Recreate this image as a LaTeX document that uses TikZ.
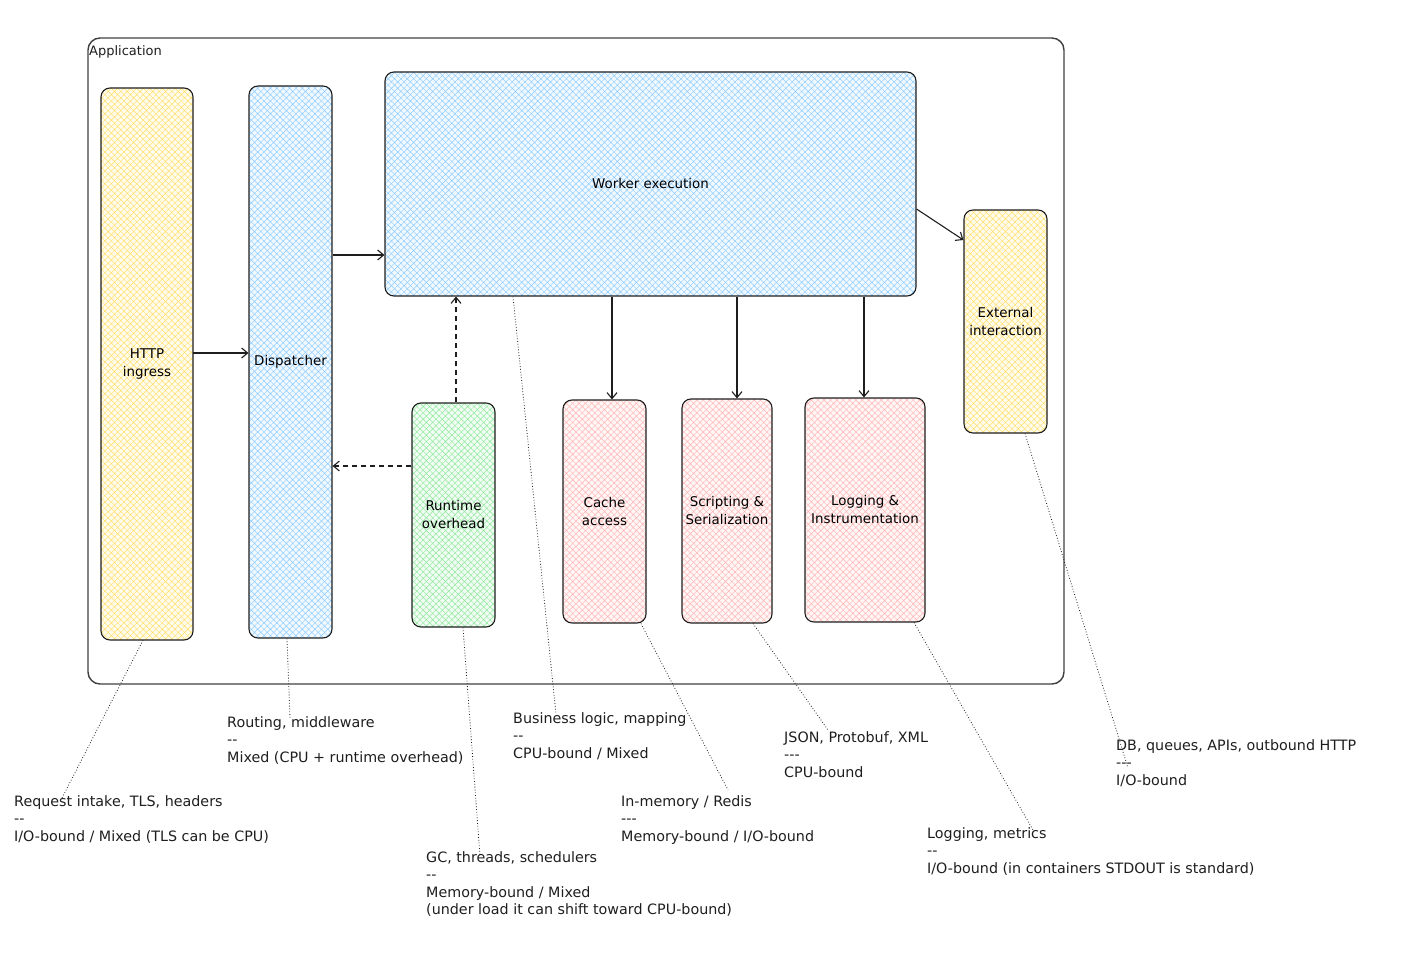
\documentclass[tikz,border=0pt]{standalone}
\usepackage{fontspec}
\setmainfont{DejaVu Sans}
\usetikzlibrary{arrows.meta,patterns.meta,calc}
\definecolor{ink}{HTML}{1E1E1E}
\definecolor{hyel}{HTML}{FFE066}
\definecolor{hblu}{HTML}{8CCBFF}
\definecolor{hgrn}{HTML}{8CE99A}
\definecolor{hred}{HTML}{FFB3B3}
\newcommand{\dd}{-\kern0pt-}
\newcommand{\ddd}{-\kern0pt-\kern0pt-}
\tikzset{
  box/.style={draw=ink, line width=1.1pt, rounded corners=9pt, align=center, inner sep=2pt,
    font=\fontsize{13.4}{18}\selectfont},
  hatchfill/.style={preaction={fill=#1!12}, pattern={Hatch[angle=45,distance=4.5pt,line width=0.45pt]}, pattern color=#1},
  yelbox/.style={box, hatchfill=hyel},
  blubox/.style={box, hatchfill=hblu},
  grnbox/.style={box, hatchfill=hgrn},
  redbox/.style={box, hatchfill=hred},
  arr/.style={draw=ink, line width=1.1pt, -{Straight Barb[length=6pt,width=10pt]}},
  darr/.style={arr, dashed, dash pattern=on 5pt off 4pt},
  dotl/.style={draw=ink, line width=0.8pt, dotted},
  ann/.style={anchor=north west, align=left, inner sep=0pt, font=\fontsize{14.3}{17.5}\selectfont, text=ink},
}
\begin{document}
\begin{tikzpicture}[x=1pt,y=-1pt]
\useasboundingbox (0,0) rectangle (1424,957);
% container
\node[draw=ink!85, line width=1.4pt, rounded corners=12pt, minimum width=976pt, minimum height=646pt, inner sep=0pt] (app) at (576,361) {};
\node[anchor=north west, inner sep=0pt, font=\fontsize{13}{14}\selectfont, text=ink] (applabel) at (89,45) {Application};
% boxes
\node[yelbox, minimum width=92pt, minimum height=552pt] (http) at (147,364) {HTTP\\ingress};
\node[blubox, minimum width=83pt, minimum height=552pt] (disp) at (290.5,362) {Dispatcher};
\node[blubox, minimum width=531pt, minimum height=224pt] (work) at (650.5,184) {Worker execution};
\node[yelbox, minimum width=83pt, minimum height=223pt] (ext) at (1005.5,321.5) {External\\interaction};
\node[grnbox, minimum width=83pt, minimum height=224pt] (rt) at (453.5,515) {Runtime\\overhead};
\node[redbox, minimum width=83pt, minimum height=223pt] (cache) at (604.5,511.5) {Cache\\access};
\node[redbox, minimum width=90pt, minimum height=224pt] (scr) at (727,511) {Scripting \&\\Serialization};
\node[redbox, minimum width=120pt, minimum height=224pt] (log) at (865,510) {Logging \&\\Instrumentation};
% arrows
\draw[arr] (http.east |- 0,353) -- (disp.west |- 0,353);
\draw[arr] (disp.east |- 0,255) -- (work.west |- 0,255);
\draw[arr] (work.east |- 0,209) -- (ext.west |- 0,240);
\draw[arr] (work.south -| 612,0) -- (cache.north -| 612,0);
\draw[arr] (work.south -| 737,0) -- (scr.north -| 737,0);
\draw[arr] (work.south -| 864,0) -- (log.north -| 864,0);
\draw[darr] (rt.north -| 456,0) -- (work.south -| 456,0);
\draw[darr] (rt.west |- 0,466) -- (disp.east |- 0,466);
% annotations
\node[ann] (a1) at (14,795) {Request intake, TLS, headers\\\dd\\I/O-bound / Mixed (TLS can be CPU)};
\node[ann] (a2) at (227,716) {Routing, middleware\\\dd\\Mixed (CPU + runtime overhead)};
\node[ann] (a3) at (513,712) {Business logic, mapping\\\dd\\CPU-bound / Mixed};
\node[ann] (a4) at (426,851) {GC, threads, schedulers\\\dd\\Memory-bound / Mixed\\(under load it can shift toward CPU-bound)};
\node[ann] (a5) at (621,795) {In-memory / Redis\\\ddd\\Memory-bound / I/O-bound};
\node[ann] (a6) at (784,731) {JSON, Protobuf, XML\\\ddd\\CPU-bound};
\node[ann] (a7) at (927,827) {Logging, metrics\\\dd\\I/O-bound (in containers STDOUT is standard)};
\node[ann] (a8) at (1116,739) {DB, queues, APIs, outbound HTTP\\\ddd\\I/O-bound};
\coordinate (e1) at (62,798);
\coordinate (e2) at (290,718);
\coordinate (e3) at (556,714);
\coordinate (e4) at (480,856);
\coordinate (e5) at (728,790);
\coordinate (e6) at (828,730);
\coordinate (e7) at (1033,830);
\coordinate (e8) at (1128,768);
\draw[dotl] (http.south -| 143,0) -- (e1);
\draw[dotl] (disp.south -| 287,0) -- (e2);
\draw[dotl] (work.south -| 513,0) -- (e3);
\draw[dotl] (rt.south -| 463,0) -- (e4);
\draw[dotl] (cache.south -| 641,0) -- (e5);
\draw[dotl] (scr.south -| 753,0) -- (e6);
\draw[dotl] (log.south -| 914,0) -- (e7);
\draw[dotl] (ext.south -| 1025,0) -- (e8);
\end{tikzpicture}
\end{document}
